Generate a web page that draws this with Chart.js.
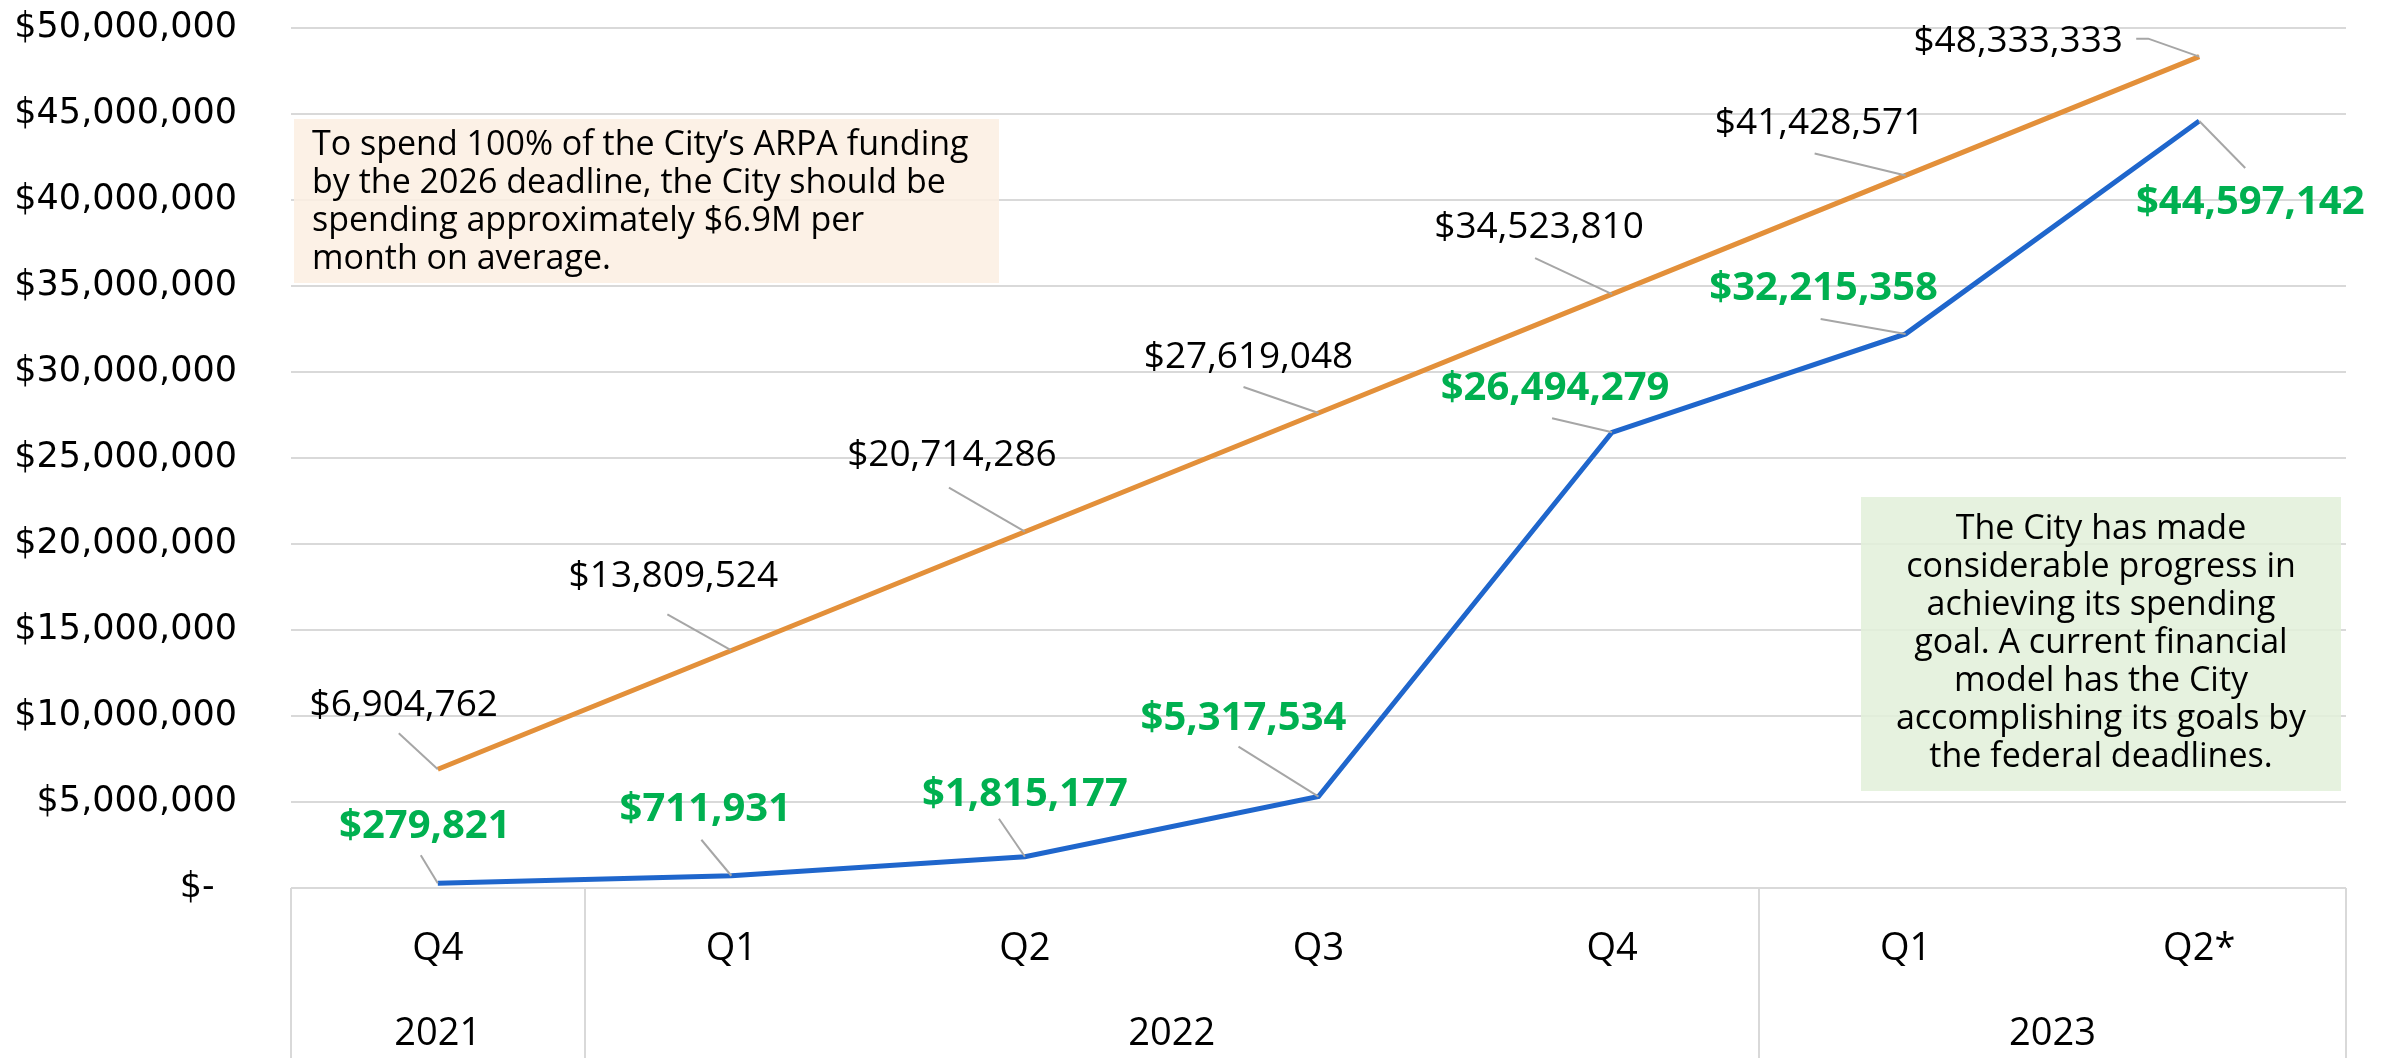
<!DOCTYPE html>
<html>
<head>
<meta charset="utf-8">
<script src="https://cdn.jsdelivr.net/npm/chart.js@4.4.0/dist/chart.umd.min.js"></script>
<style>
  html, body { margin: 0; padding: 0; background: #fff; }
  #wrap { width: 2392px; height: 1058px; }
</style>
</head>
<body>
<div id="wrap"><canvas id="arpa-chart" width="2392" height="1058"></canvas></div>
<script>
// chart values
const quarters = ['Q4', 'Q1', 'Q2', 'Q3', 'Q4', 'Q1', 'Q2*'];
const years = ['2021', '2022', '2023'];
const yearSpans = [1, 4, 2];
const targetSpend = [6904762, 13809524, 20714286, 27619048, 34523810, 41428571, 48333333];
const actualSpend = [279821, 711931, 1815177, 5317534, 26494279, 32215358, 44597142];
const yMax = 50000000;
const yStep = 5000000;

const leftNote = [
    'To spend 100% of the City\u2019s ARPA funding',
    'by the 2026 deadline, the City should be',
    'spending approximately $6.9M per',
    'month on average.'
];
const rightNote = [
    'The City has made',
    'considerable progress in',
    'achieving its spending',
    'goal. A current financial',
    'model has the City',
    'accomplishing its goals by',
    'the federal deadlines.'
];

// label placement, offsets in px from each point
const targetLabelPos = [[-34, -64], [-58, -74], [-73, -76], [-70, -55], [-73, -67], [-86, -52], [-181, -15]];
const targetLeaders = [
    [[-39, -36]], [[-64, -36]], [[-76, -44]], [[-75, -26]], [[-77, -36]], [[-91, -22]],
    [[-63, -18], [-51, -18]]
];
const actualLabelPos = [[-13, -57], [-26, -66], [0, -62], [-75, -78], [-57, -44], [-82, -45], [51, 82]];
const actualLeaders = [
    [[-17, -28]], [[-30, -36]], [[-26, -38]], [[-80, -50]], [[-60, -14]], [[-85, -15]], [[46, 47]]
];

const money = (v) => '$' + Math.round(v).toLocaleString('en-US');
const GRID = '#D9D9D9';
const LABEL_FONT = '"Open Sans", sans-serif';

const notesPlugin = {
    id: 'notes',
    beforeDatasetsDraw(chart) {
        const ctx = chart.ctx;
        ctx.save();
        ctx.fillStyle = 'rgba(251, 238, 226, 0.85)';
        ctx.fillRect(294, 119, 705, 164);
        ctx.fillStyle = 'rgba(226, 240, 217, 0.85)';
        ctx.fillRect(1861, 497, 480, 294);

        ctx.fillStyle = '#000';
        ctx.font = '34px ' + LABEL_FONT;
        ctx.textBaseline = 'middle';
        ctx.textAlign = 'left';
        leftNote.forEach((line, i) => ctx.fillText(line, 312, 145 + i * 38));
        ctx.textAlign = 'center';
        rightNote.forEach((line, i) => ctx.fillText(line, 2101, 529 + i * 38));
        ctx.restore();
    }
};

const axisBoxPlugin = {
    id: 'axisBox',
    afterDraw(chart) {
        const ctx = chart.ctx;
        const x = chart.scales.x;
        const area = chart.chartArea;
        const step = x.getPixelForValue(1) - x.getPixelForValue(0);
        ctx.save();
        ctx.strokeStyle = GRID;
        ctx.lineWidth = 2;
        ctx.fillStyle = '#000';
        ctx.font = '38px ' + LABEL_FONT;
        ctx.textAlign = 'center';
        ctx.textBaseline = 'middle';
        let start = 0;
        const edges = [0];
        yearSpans.forEach((span, i) => {
            const left = x.getPixelForValue(start) - step / 2;
            const right = x.getPixelForValue(start + span - 1) + step / 2;
            ctx.fillText(years[i], (left + right) / 2, 1034);
            start += span;
            edges.push(start);
        });
        edges.forEach((idx) => {
            const px = Math.round(x.getPixelForValue(idx) - step / 2);
            ctx.beginPath();
            ctx.moveTo(px, area.bottom);
            ctx.lineTo(px, chart.height);
            ctx.stroke();
        });
        ctx.restore();
    }
};

const pointLabelsPlugin = {
    id: 'pointLabels',
    afterDatasetsDraw(chart) {
        const ctx = chart.ctx;
        ctx.save();
        chart.data.datasets.forEach((ds, di) => {
            const meta = chart.getDatasetMeta(di);
            const cfg = ds.pointLabels;
            meta.data.forEach((pt, i) => {
                const leader = cfg.leaders[i];
                ctx.strokeStyle = '#A6A6A6';
                ctx.lineWidth = 2;
                ctx.beginPath();
                ctx.moveTo(pt.x + leader[0][0], pt.y + leader[0][1]);
                for (let k = 1; k < leader.length; k++) {
                    ctx.lineTo(pt.x + leader[k][0], pt.y + leader[k][1]);
                }
                ctx.lineTo(pt.x, pt.y);
                ctx.stroke();

                ctx.fillStyle = cfg.color;
                ctx.font = cfg.font;
                ctx.textAlign = 'center';
                ctx.textBaseline = 'middle';
                ctx.fillText(money(ds.data[i]), pt.x + cfg.pos[i][0], pt.y + cfg.pos[i][1]);
            });
        });
        ctx.restore();
    }
};

new Chart(document.getElementById('arpa-chart'), {
    type: 'line',
    data: {
        labels: quarters,
        datasets: [
            {
                label: 'Target',
                data: targetSpend,
                borderColor: '#E3903A',
                borderWidth: 5,
                pointRadius: 0,
                tension: 0,
                pointLabels: { pos: targetLabelPos, leaders: targetLeaders, color: '#000', font: '37px ' + LABEL_FONT }
            },
            {
                label: 'Actual',
                data: actualSpend,
                borderColor: '#1F66CC',
                borderWidth: 5,
                pointRadius: 0,
                tension: 0,
                pointLabels: { pos: actualLabelPos, leaders: actualLeaders, color: '#00B050', font: 'bold 40px ' + LABEL_FONT }
            }
        ]
    },
    options: {
        responsive: false,
        animation: false,
        devicePixelRatio: 1,
        layout: { padding: { top: 28, right: 46, bottom: 0, left: 0 } },
        plugins: {
            legend: { display: false },
            tooltip: { enabled: false }
        },
        scales: {
            x: {
                offset: true,
                grid: { display: false },
                border: { display: false },
                ticks: {
                    color: '#000',
                    font: { family: 'Open Sans', size: 38 },
                    padding: 30,
                    maxRotation: 0,
                    autoSkip: false
                },
                afterFit: (scale) => {
                    scale.height = 170;
                    scale.paddingLeft = 0;
                    scale.paddingRight = 0;
                }
            },
            y: {
                min: 0,
                max: yMax,
                grid: { color: GRID, lineWidth: 2, drawTicks: false },
                border: { display: false },
                ticks: {
                    stepSize: yStep,
                    color: '#000',
                    font: { family: 'DejaVu Sans', size: 35 },
                    padding: 54,
                    callback: (v) => (v === 0 ? '$-  ' : money(v))
                },
                afterFit: (scale) => {
                    scale.width = 291;
                    scale.paddingTop = 0;
                    scale.paddingBottom = 0;
                }
            }
        }
    },
    plugins: [notesPlugin, pointLabelsPlugin, axisBoxPlugin]
});
</script>
</body>
</html>
